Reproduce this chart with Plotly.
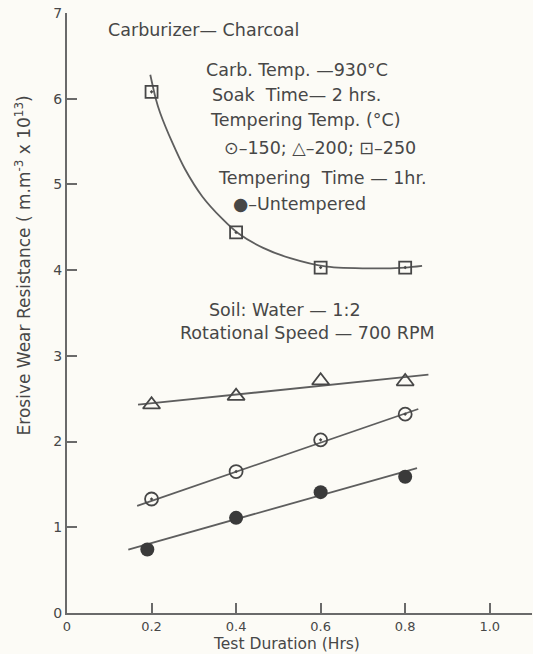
import plotly.graph_objects as go

# ---- data ----
duration = [0.2, 0.4, 0.6, 0.8]
temp150 = [1.33, 1.65, 2.02, 2.32]
temp200 = [2.43, 2.53, 2.71, 2.70]
temp250 = [6.08, 4.44, 4.03, 4.03]
untempered = [0.74, 1.11, 1.41, 1.59]

# fitted lines / curve drawn in the original (end points & guide points)
fit150_x = [0.166, 0.831]
fit150_y = [1.25, 2.38]
fit200_x = [0.168, 0.855]
fit200_y = [2.43, 2.78]
fitunt_x = [0.145, 0.828]
fitunt_y = [0.74, 1.69]
fit250_x = [0.197, 0.21, 0.22, 0.249, 0.279, 0.32, 0.367, 0.405, 0.464, 0.528, 0.615, 0.717, 0.8, 0.84]
fit250_y = [6.28, 6.00, 5.84, 5.49, 5.18, 4.86, 4.60, 4.43, 4.26, 4.14, 4.04, 4.02, 4.03, 4.05]

x_ticks = [0, 0.2, 0.4, 0.6, 0.8, 1.0]
x_tick_labels = ["0", "0.2", "0.4", "0.6", "0.8", "1.0"]
y_ticks = [0, 1, 2, 3, 4, 5, 6, 7]

INK = "#474747"
LINE = "#5e5e5e"
FONT = "DejaVu Sans"
NOTE_SIZE = 17.5

fig = go.Figure()

# fit lines
for fx, fy, shape in [(fit150_x, fit150_y, "linear"), (fit200_x, fit200_y, "linear"),
                      (fitunt_x, fitunt_y, "linear"), (fit250_x, fit250_y, "spline")]:
    fig.add_trace(go.Scatter(x=fx, y=fy, mode="lines",
                             line=dict(color=LINE, width=1.8, shape=shape, smoothing=0.8),
                             showlegend=False, hoverinfo="skip"))

# markers
fig.add_trace(go.Scatter(x=duration, y=temp150, mode="markers",
                         marker=dict(symbol="circle-open-dot", size=13, color=INK,
                                     line=dict(width=1.8, color=INK)),
                         showlegend=False))
fig.add_trace(go.Scatter(x=duration, y=temp200, mode="markers",
                         marker=dict(symbol="triangle-up-open", size=15, color=INK,
                                     line=dict(width=1.8, color=INK)),
                         showlegend=False))
fig.add_trace(go.Scatter(x=duration, y=temp250, mode="markers",
                         marker=dict(symbol="square-open-dot", size=12, color=INK,
                                     line=dict(width=1.8, color=INK)),
                         showlegend=False))
fig.add_trace(go.Scatter(x=[0.19, 0.4, 0.6, 0.8], y=untempered, mode="markers",
                         marker=dict(symbol="circle", size=14, color="#3a3a3a",
                                     line=dict(width=0)),
                         showlegend=False))

notes = [
    ("Carburizer\u2014 Charcoal", 0.324, 6.80),
    ("Carb. Temp. \u2014930\u00b0C", 0.544, 6.33),
    ("Soak  Time\u2014 2 hrs.", 0.542, 6.04),
    ("Tempering Temp. (\u00b0C)", 0.564, 5.75),
    ("\u2299\u2013150; \u25b3\u2013200; \u22a1\u2013250", 0.598, 5.42),
    ("Tempering  Time \u2014 1hr.", 0.604, 5.08),
    ("\u25cf\u2013Untempered", 0.551, 4.77),
    ("Soil: Water \u2014 1:2", 0.516, 3.54),
    ("Rotational Speed \u2014 700 RPM", 0.570, 3.27),
]
for txt, nx, ny in notes:
    fig.add_annotation(x=nx, y=ny, xref="x", yref="y", text=txt, showarrow=False,
                       font=dict(family=FONT, size=NOTE_SIZE, color=INK),
                       xanchor="center", yanchor="middle")

# axis titles as annotations
fig.add_annotation(x=0.52, y=-0.069, xref="x", yref="paper",
                   text="Test Duration (Hrs)", showarrow=False,
                   font=dict(family=FONT, size=15.5, color=INK),
                   xanchor="center", yanchor="bottom", borderpad=0)
fig.add_annotation(x=-0.095, y=0.579, xref="paper", yref="paper",
                   text="Erosive Wear Resistance ( m.m<sup>-3</sup> x 10<sup>13</sup>)",
                   textangle=-90, showarrow=False,
                   font=dict(family=FONT, size=17, color=INK),
                   xanchor="center", yanchor="middle")

fig.update_layout(
    width=533, height=654,
    margin=dict(l=67, r=1, t=13, b=41, autoexpand=False),
    paper_bgcolor="#fcfbf6", plot_bgcolor="#fcfbf6",
    font=dict(family=FONT, size=13, color=INK),
    showlegend=False,
)
fig.update_xaxes(range=[0, 1.1], tickvals=x_ticks, ticktext=x_tick_labels,
                 showgrid=False, zeroline=False, showline=True, linecolor="#6a6a6a",
                 linewidth=2, ticks="inside", ticklen=10, tickwidth=1.5, tickcolor="#6a6a6a",
                 tickfont=dict(family=FONT, size=13, color=INK))
fig.update_yaxes(range=[0, 7], tickvals=y_ticks,
                 showgrid=False, zeroline=False, showline=True, linecolor="#6a6a6a",
                 linewidth=2, ticks="inside", ticklen=10, tickwidth=1.5, tickcolor="#6a6a6a",
                 tickfont=dict(family=FONT, size=14, color=INK))

fig.write_html("out.html", config={"displayModeBar": False},
               post_script="document.body.style.margin='0';document.body.style.overflow='hidden';")
